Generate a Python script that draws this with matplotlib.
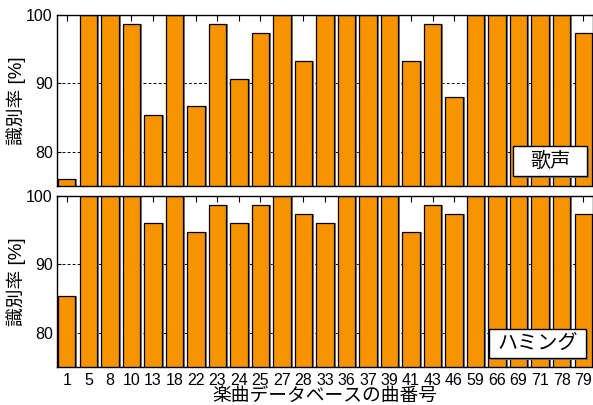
import numpy as np
import matplotlib
matplotlib.use('Agg')
import matplotlib.pyplot as plt
from matplotlib.patches import Rectangle

plt.rcParams['font.family'] = ['Liberation Sans', 'Noto Sans CJK JP', 'DejaVu Sans']

# song numbers in the music database
labels = ['1', '5', '8', '10', '13', '18', '22', '23', '24', '25', '27', '28',
          '33', '36', '37', '39', '41', '43', '46', '59', '66', '69', '71', '78', '79']

# recognition rates [%] (75 queries per song)
singing = [76.0, 100, 100, 98.67, 85.33, 100, 86.67, 98.67, 90.67, 97.33, 100, 93.33,
           100, 100, 100, 100, 93.33, 98.67, 88.0, 100, 100, 100, 100, 100, 97.33]
humming = [85.33, 100, 100, 100, 96.0, 100, 94.67, 98.67, 96.0, 98.67, 100, 97.33,
           96.0, 100, 100, 100, 94.67, 98.67, 97.33, 100, 100, 100, 100, 100, 97.33]

panel_names = ['歌声', 'ハミング']

W, H = 593, 405
fig = plt.figure(figsize=(W / 100, H / 100), dpi=100)

bar_color = '#F79200'
n = len(labels)
x = np.arange(n)
width = 0.8
px = 1.0 / 21.5  # one pixel in data units (approx.)


def panel(rect, values, name, box):
    ax = fig.add_axes(rect)
    ax.bar(x + 2 * px, values, width, color='#7a7a7a', zorder=1)
    ax.bar(x, values, width, color=bar_color, edgecolor='black', linewidth=0.9, zorder=2)
    ax.set_xlim(-0.46, n - 1 + 0.46)
    ax.set_ylim(75, 100)
    ax.set_yticks([80, 90, 100])
    ax.set_axisbelow(True)
    ax.yaxis.grid(True, color='black', linewidth=0.7, linestyle=(0, (3, 2.2)))
    ax.tick_params(axis='y', direction='in', length=3, labelsize=11.5, pad=3,
                   left=True, right=True)
    ax.tick_params(axis='x', direction='in', length=4, top=True, bottom=True)
    for s in ax.spines.values():
        s.set_linewidth(1.0)
    ax.set_ylabel('識別率 [%]', fontsize=13.5)
    ax.yaxis.set_label_coords(-0.058, 0.5)

    x0, x1, y0, y1 = box
    sx, sy = 2.0 / (rect[2] * W), 2.0 / (rect[3] * H)
    ax.add_patch(Rectangle((x0 + sx, y0 - sy), x1 - x0, y1 - y0, transform=ax.transAxes,
                           facecolor='#808080', edgecolor='none', zorder=5, clip_on=False))
    ax.add_patch(Rectangle((x0, y0), x1 - x0, y1 - y0, transform=ax.transAxes,
                           facecolor='white', edgecolor='black', linewidth=1.0, zorder=6,
                           clip_on=False))
    ax.text((x0 + x1) / 2, (y0 + y1) / 2, name, transform=ax.transAxes, ha='center',
            va='center', fontsize=14.5, zorder=7, family=['Noto Sans CJK JP'])
    return ax


ax_l = 57 / W
ax_w = 1.0 - ax_l
ax_h = 171 / H

ax1 = panel([ax_l, (H - 186) / H, ax_w, ax_h], singing, panel_names[0],
            (0.851, 0.989, 0.058, 0.234))
ax1.set_xticks(x)
ax1.set_xticklabels([])

ax2 = panel([ax_l, (H - 367) / H, ax_w, ax_h], humming, panel_names[1],
            (0.806, 0.987, 0.053, 0.222))
ax2.set_xticks(x)
ax2.set_xticklabels(labels, fontsize=11.5)
ax2.tick_params(axis='x', pad=4)
ax2.set_xlabel('楽曲データベースの曲番号', fontsize=13.5, labelpad=0)

fig.savefig('out.png', dpi=100)
